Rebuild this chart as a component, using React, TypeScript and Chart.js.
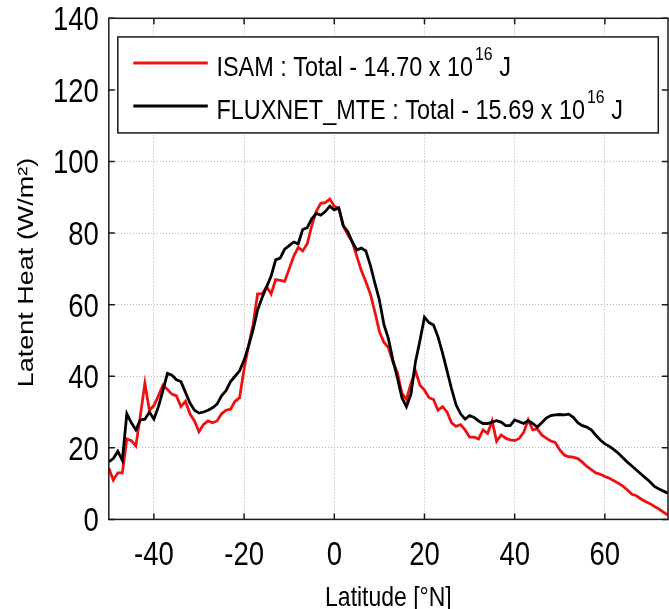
import React, { useEffect, useRef } from 'react';
import { Chart, registerables } from 'chart.js';

Chart.register(...registerables);

// ---- data ----
const latitudes = [
  -50, -49, -48, -47, -46, -45, -44, -43, -42, -41, -40, -39, -38, -37, -36, -35, -34, -33, -32, -31,
  -30, -29, -28, -27, -26, -25, -24, -23, -22, -21, -20, -19, -18, -17, -16, -15, -14, -13, -12, -11,
  -10, -9, -8, -7, -6, -5, -4, -3, -2, -1, 0, 1, 2, 3, 4, 5, 6, 7, 8, 9,
  10, 11, 12, 13, 14, 15, 16, 17, 18, 19, 20, 21, 22, 23, 24, 25, 26, 27, 28, 29,
  30, 31, 32, 33, 34, 35, 36, 37, 38, 39, 40, 41, 42, 43, 44, 45, 46, 47, 48, 49,
  50, 51, 52, 53, 54, 55, 56, 57, 58, 59, 60, 61, 62, 63, 64, 65, 66, 67, 68, 69,
  70, 71, 72, 73, 74,
];

const isamValues = [
  14.3, 11, 13, 13, 22.5, 22, 20.5, 29, 38, 30.5, 31.8, 34.5, 37.5, 36.3, 35, 34.5, 31.5, 33, 29.5, 27.5,
  24.5, 26.5, 27.5, 27, 27.5, 29.5, 30.5, 30.8, 33, 34, 42, 48.5, 54.5, 63, 63, 65, 63, 67, 66.8, 66.5,
  70, 73.5, 76, 75, 77, 82, 86, 88.3, 88.5, 89.5, 87.5, 87, 82, 79.5, 77.5, 73.5, 69.5, 66.4, 63, 58,
  52.5, 49.5, 48, 44, 41, 35.2, 33.5, 38, 41.5, 37.5, 36.1, 34, 33.5, 30.5, 31.5, 30, 27, 26, 26.5, 25,
  23, 23, 22.5, 25, 24, 27.5, 21.8, 23.6, 22.7, 22.2, 22, 22.6, 24.3, 27.8, 25, 25.3, 23.6, 22.7, 21.9, 21.5,
  19.4, 18, 17.5, 17.4, 17, 16, 14.8, 13.9, 13, 12.6, 12, 11.5, 10.8, 10.1, 9.3, 8.2, 7, 6.6, 5.7, 5,
  4.4, 3.6, 2.9, 2, 1.2,
];

const fluxnetValues = [
  16.1, 17, 19, 16.5, 29.5, 27, 25, 27.8, 28, 30, 28, 31.5, 36, 40.8, 40.3, 39, 38.5, 35.5, 32.5, 30.5,
  29.7, 30, 30.5, 31.2, 32.2, 34.5, 36, 38.5, 40, 41.5, 44.5, 48.5, 53, 58.5, 62, 65, 68, 72.5, 73, 75.5,
  76.5, 77.5, 77, 81, 81.5, 84, 85.5, 85, 86, 87.5, 86.5, 87, 82, 80.4, 77.5, 75.3, 75.8, 75, 71, 66,
  61.3, 54.5, 50.5, 44.5, 39.5, 34, 31.5, 35, 44, 50, 56.5, 55, 54.3, 51, 46.5, 41.5, 36.5, 32, 29.5, 28,
  29, 28.5, 27.5, 26.8, 26.8, 27.2, 27.6, 27.2, 26.2, 26.2, 27.8, 27.3, 26.8, 27.6, 26.8, 25.8, 27, 28.3, 29, 29.2,
  29.3, 29.2, 29.4, 28.5, 27, 26.2, 25.8, 25, 23.5, 22.2, 21.1, 20.4, 19.5, 18.5, 17.2, 16, 14.9, 13.8, 12.7, 11.6,
  10.5, 9.2, 8.5, 7.9, 7.3,
];

const seriesNames = ['ISAM', 'FLUXNET_MTE'];
const seriesTotals = ['14.70', '15.69'];
const seriesColors = ['#ee1111', '#000000'];
const xTicks = [-40, -20, 0, 20, 40, 60];
const yTicks = [0, 20, 40, 60, 80, 100, 120, 140];
const xTitle = 'Latitude [°N]';
const yTitle = 'Latent Heat (W/m²)';

const FONT = "'Liberation Sans', Arial, Helvetica, sans-serif";
const SQUEEZE = 0.82; // the reference text is horizontally condensed
const LEGEND_SQUEEZE = 0.837;

function squeezedText(ctx: CanvasRenderingContext2D, text: string, x: number, y: number, size: number, align: CanvasTextAlign, k: number = SQUEEZE) {
  ctx.save();
  ctx.translate(x, y);
  ctx.scale(k, 1);
  ctx.font = `${size}px ${FONT}`;
  ctx.textAlign = align;
  ctx.textBaseline = 'alphabetic';
  ctx.fillText(text, 0, 0);
  ctx.restore();
}

function squeezedWidth(ctx: CanvasRenderingContext2D, text: string, size: number, k: number = SQUEEZE) {
  ctx.save();
  ctx.font = `${size}px ${FONT}`;
  const w = ctx.measureText(text).width * k;
  ctx.restore();
  return w;
}

const framePlugin = {
  id: 'frameAndLegend',
  afterDraw(chart: any) {
    const { ctx, chartArea: a, scales } = chart;
    ctx.save();
    // frame
    ctx.strokeStyle = '#1a1a1a';
    ctx.lineWidth = 1.5;
    ctx.strokeRect(a.left, a.top, a.right - a.left, a.bottom - a.top);
    // inward tick marks on all four sides
    ctx.beginPath();
    for (const v of xTicks) {
      const p = scales.x.getPixelForValue(v);
      ctx.moveTo(p, a.bottom);
      ctx.lineTo(p, a.bottom - 6);
      ctx.moveTo(p, a.top);
      ctx.lineTo(p, a.top + 6);
    }
    for (const v of yTicks) {
      const p = scales.y.getPixelForValue(v);
      ctx.moveTo(a.left, p);
      ctx.lineTo(a.left + 6, p);
      ctx.moveTo(a.right, p);
      ctx.lineTo(a.right - 6, p);
    }
    ctx.stroke();

    ctx.fillStyle = '#000000';
    // tick labels
    for (const v of yTicks) {
      const p = scales.y.getPixelForValue(v);
      squeezedText(ctx, String(v), a.left - 10, p + 12, 33.5, 'right');
    }
    for (const v of xTicks) {
      const p = scales.x.getPixelForValue(v);
      squeezedText(ctx, String(v), p, a.bottom + 45.6, 33.5, 'center');
    }
    // axis titles
    squeezedText(ctx, xTitle, (a.left + a.right) / 2, a.bottom + 86.8, 28, 'center');
    ctx.save();
    ctx.translate(33.3, (a.top + a.bottom) / 2 + 3.6);
    ctx.rotate(-Math.PI / 2);
    ctx.scale(1, SQUEEZE);
    ctx.font = `27px ${FONT}`;
    ctx.textAlign = 'center';
    ctx.textBaseline = 'alphabetic';
    ctx.fillText(yTitle, 0, 0);
    ctx.restore();

    // legend box
    const bx = a.left + 9;
    const by = a.top + 18.6;
    const bw = a.right - 9.7 - bx;
    const bh = 96;
    ctx.fillStyle = '#ffffff';
    ctx.fillRect(bx, by, bw, bh);
    ctx.strokeStyle = '#1a1a1a';
    ctx.lineWidth = 1.5;
    ctx.strokeRect(bx, by, bw, bh);

    const rows = [
      { lineY: by + 26, base: by + 39 },
      { lineY: by + 69, base: by + 81.7 },
    ];
    chart.data.datasets.forEach((ds: any, i: number) => {
      const r = rows[i];
      ctx.strokeStyle = ds.borderColor;
      ctx.lineWidth = 3;
      ctx.beginPath();
      ctx.moveTo(bx + 15.5, r.lineY);
      ctx.lineTo(bx + 90, r.lineY);
      ctx.stroke();

      ctx.fillStyle = '#000000';
      let tx = bx + 98.6;
      const main = `${seriesNames[i]} : Total - ${seriesTotals[i]} x 10`;
      squeezedText(ctx, main, tx, r.base, 28, 'left', LEGEND_SQUEEZE);
      tx += squeezedWidth(ctx, main, 28, LEGEND_SQUEEZE) + 2;
      squeezedText(ctx, '16', tx, r.base - 15.5, 19, 'left', LEGEND_SQUEEZE);
      tx += squeezedWidth(ctx, '16', 19, LEGEND_SQUEEZE);
      squeezedText(ctx, ' J', tx, r.base, 28, 'left', LEGEND_SQUEEZE);
    });
    ctx.restore();
  },
};

export default function App() {
  const canvasRef = useRef<HTMLCanvasElement | null>(null);

  useEffect(() => {
    document.body.style.margin = '0';
    const canvas = canvasRef.current;
    if (!canvas) return;
    const chart = new Chart(canvas, {
      type: 'line',
      data: {
        datasets: [
          {
            label: seriesNames[0],
            data: latitudes.map((x, i) => ({ x, y: isamValues[i] })),
            borderColor: seriesColors[0],
            borderWidth: 2.8,
            pointRadius: 0,
            tension: 0,
            order: 1,
          },
          {
            label: seriesNames[1],
            data: latitudes.map((x, i) => ({ x, y: fluxnetValues[i] })),
            borderColor: seriesColors[1],
            borderWidth: 2.8,
            pointRadius: 0,
            tension: 0,
            order: 0,
          },
        ],
      },
      options: {
        responsive: false,
        animation: false,
        devicePixelRatio: 1,
        layout: { padding: { top: 18.3, right: 1, left: 0, bottom: 0 } },
        plugins: {
          legend: { display: false },
          tooltip: { enabled: false },
        },
        scales: {
          x: {
            type: 'linear',
            min: -50,
            max: 74,
            afterBuildTicks: (scale: any) => {
              scale.ticks = xTicks.map((v) => ({ value: v }));
            },
            afterFit: (scale: any) => {
              scale.height = 89.6;
            },
            grid: { color: '#b4b4b4', lineWidth: 1, drawTicks: false },
            border: { display: false, dash: [1, 2] },
            ticks: { display: false },
            title: { display: false, text: xTitle },
          },
          y: {
            type: 'linear',
            min: 0,
            max: 140,
            afterBuildTicks: (scale: any) => {
              scale.ticks = yTicks.map((v) => ({ value: v }));
            },
            afterFit: (scale: any) => {
              scale.width = 108.8;
            },
            grid: { color: '#b4b4b4', lineWidth: 1, drawTicks: false },
            border: { display: false, dash: [1, 2] },
            ticks: { display: false },
            title: { display: false, text: yTitle },
          },
        },
      },
      plugins: [framePlugin],
    });
    return () => chart.destroy();
  }, []);

  return (
    <div style={{ position: 'absolute', left: 0, top: 0, width: 669, height: 609, background: '#ffffff' }}>
      <canvas ref={canvasRef} width={669} height={609} />
    </div>
  );
}
